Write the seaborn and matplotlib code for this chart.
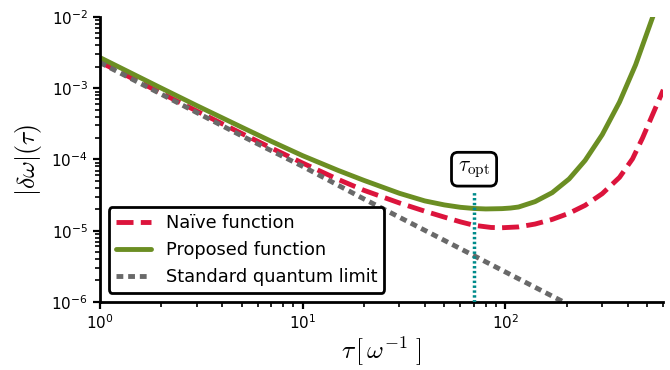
import matplotlib
matplotlib.use("Agg")
import matplotlib.pyplot as plt
import seaborn as sns
import pandas as pd

# ---- data ----
tau_naive = [1, 2, 3, 5, 7, 10, 15, 20, 30, 40, 50, 60, 70, 85, 96, 116, 140,
             170, 206, 247, 300, 365, 423, 474, 532, 600]
naive = [2.34e-3, 8.6e-4, 4.8e-4, 2.32e-4, 1.45e-4, 8.9e-5, 5.23e-5, 3.7e-5,
         2.45e-5, 1.88e-5, 1.55e-5, 1.33e-5, 1.19e-5, 1.11e-5, 1.1e-5,
         1.13e-5, 1.24e-5, 1.44e-5, 1.76e-5, 2.27e-5, 3.31e-5, 5.61e-5,
         1.02e-4, 2.0e-4, 4.3e-4, 9.5e-4]

tau_proposed = [1, 2, 3, 5, 7, 10, 15, 20, 30, 40, 50, 60, 70, 80, 96, 106,
                116, 140, 170, 206, 247, 300, 365, 438, 532, 560]
proposed = [2.7e-3, 1.01e-3, 5.72e-4, 2.84e-4, 1.8e-4, 1.13e-4, 7.0e-5,
            5.1e-5, 3.35e-5, 2.62e-5, 2.3e-5, 2.13e-5, 2.05e-5, 2.02e-5,
            2.04e-5, 2.08e-5, 2.15e-5, 2.56e-5, 3.42e-5, 5.33e-5, 9.7e-5,
            2.23e-4, 6.4e-4, 2.13e-3, 1.0e-2, 1.5e-2]

tau_sql = [1, 2, 5, 10, 20, 50, 100, 200]
sql = [2.3e-3, 8.3e-4, 2.15e-4, 8.0e-5, 2.8e-5, 7.3e-6, 2.63e-6, 9.5e-7]

tau_opt = 70
opt_line_top = 3.6e-5
opt_label_y = 7.3e-5

labels = ["Naïve function", "Proposed function", "Standard quantum limit"]

# ---- style ----
sns.set_style("ticks")
plt.rcParams.update({
    "mathtext.fontset": "cm",
    "axes.edgecolor": "black",
    "text.color": "black",
    "axes.labelcolor": "black",
    "xtick.color": "black",
    "ytick.color": "black",
    "xtick.direction": "out",
    "ytick.direction": "out",
})
plt.rcParams["font.family"] = ["DejaVu Sans"]

fig = plt.figure(figsize=(6.7, 3.7), dpi=100)
ax = fig.add_axes([0.149, 0.184, 0.841, 0.770])

df_naive = pd.DataFrame({"tau": tau_naive, "val": naive})
df_prop = pd.DataFrame({"tau": tau_proposed, "val": proposed})
df_sql = pd.DataFrame({"tau": tau_sql, "val": sql})

sns.lineplot(data=df_naive, x="tau", y="val", ax=ax, color="crimson",
             linewidth=3.5, linestyle=(0, (3.5, 1.5)), label=labels[0],
             estimator=None)
sns.lineplot(data=df_prop, x="tau", y="val", ax=ax, color="olivedrab",
             linewidth=3.5, linestyle="-", label=labels[1], estimator=None)
sns.lineplot(data=df_sql, x="tau", y="val", ax=ax, color="dimgray",
             linewidth=3.5, linestyle=(0, (1.4, 1.0)), label=labels[2],
             estimator=None)

ax.vlines(tau_opt, 1e-6, opt_line_top, colors="darkcyan",
          linestyles=[(0, (0.7, 0.7))], linewidth=2.5, zorder=3)
ax.text(tau_opt, opt_label_y, r"$\tau_{\rm opt}$", ha="center", va="center",
        fontsize=15.5, zorder=4,
        bbox=dict(boxstyle="round,pad=0.3", fc="white", ec="black", lw=2))

ax.set_xscale("log")
ax.set_yscale("log")
ax.set_xlim(1, 600)
ax.set_ylim(1e-6, 1e-2)

ax.set_xlabel(r"$\tau\,[\,\omega^{-1}\;]$", fontsize=18.5, labelpad=2)
ax.set_ylabel(r"$|\delta\omega|(\tau)$", fontsize=18.5, labelpad=5)

for s in ["left", "bottom"]:
    ax.spines[s].set_linewidth(2)
sns.despine(ax=ax)
ax.tick_params(which="major", length=5, width=1.6, labelsize=11)
ax.tick_params(which="minor", length=3.5, width=1.2)

leg = ax.legend(loc="lower left", fontsize=12.8, frameon=True, fancybox=True,
                framealpha=1, edgecolor="black", handlelength=2.0)
leg.get_frame().set_linewidth(2)

fig.savefig("out.png", dpi=100)
